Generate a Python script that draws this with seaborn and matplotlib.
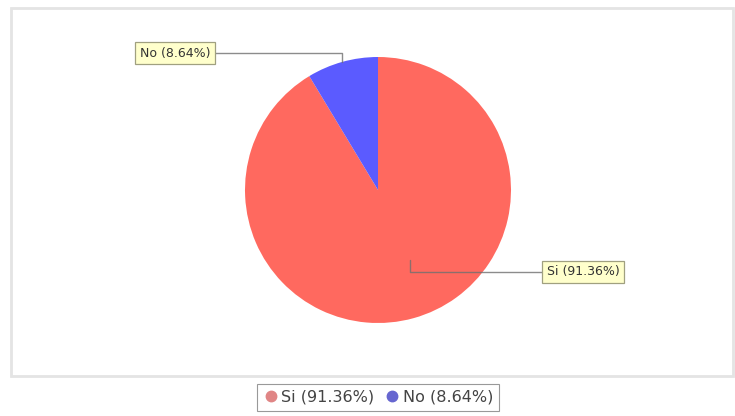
import matplotlib
matplotlib.use("Agg")
import matplotlib.pyplot as plt
from matplotlib.patches import Rectangle
from matplotlib.lines import Line2D
import seaborn as sns
import numpy as np

categories = ["Si", "No"]
percents = [91.36, 8.64]
colors = ["#FF695F", "#5B5BFF"]
legend_colors = ["#E08585", "#6666D0"]

sns.set_theme(style="white")
plt.rcParams['font.family'] = ['DejaVu Sans']

W, H = 735, 416
fig = plt.figure(figsize=(W / 100, H / 100), dpi=100)
fig.patch.set_facecolor("white")

# plot frame
frame = Rectangle((11 / W, 1 - 376 / H), (733 - 11) / W, (376 - 8) / H,
                  transform=fig.transFigure, fill=False, edgecolor="#e4e4e4", lw=2)
fig.patches.append(frame)

# pie axes
cx, cy, r = 378, 190, 133
ax = fig.add_axes([(cx - r) / W, 1 - (cy + r) / H, 2 * r / W, 2 * r / H])
wedges, _ = ax.pie(percents, colors=colors, startangle=90, counterclock=False,
                   radius=1.0, wedgeprops=dict(linewidth=0))
ax.set_xlim(-1, 1)
ax.set_ylim(-1, 1)
ax.set_aspect("auto")
ax.axis("off")

labels = [f"{c} ({p:.2f}%)" for c, p in zip(categories, percents)]
# anchor radii, angle offsets and label box positions (figure pixels)
anchor_r = [0.58, 1.0]
angle_off = [9, 0]
text_pos = [(583, 272), (175, 53)]
for w, lab, ar, ao, (tx, ty) in zip(wedges, labels, anchor_r, angle_off, text_pos):
    ang = np.deg2rad((w.theta1 + w.theta2) / 2 + ao)
    xy = (ar * np.cos(ang), ar * np.sin(ang))
    ax.annotate(lab, xy=xy, xycoords="data",
                xytext=(tx / W, 1 - ty / H), textcoords="figure fraction",
                ha="center", va="center", fontsize=9, color="#333333",
                bbox=dict(boxstyle="square,pad=0.35", fc="#FFFFCC", ec="#A0A080", lw=0.9),
                arrowprops=dict(arrowstyle="-", color="#707070", lw=1.0, alpha=0.8,
                                shrinkA=0, shrinkB=0,
                                connectionstyle="angle,angleA=0,angleB=90,rad=0"))

# legend
handles = [Line2D([0], [0], marker="o", linestyle="", markersize=7.5,
                  markerfacecolor=c, markeredgecolor=c) for c in legend_colors]
leg = fig.legend(handles, labels, loc="center", bbox_to_anchor=(378 / W, 1 - 397.5 / H),
                 ncol=2, fontsize=11.5, frameon=True, fancybox=False,
                 handletextpad=0.15, columnspacing=0.6, borderpad=0.4, handlelength=1.0)
leg.get_frame().set_edgecolor("#808080")
leg.get_frame().set_linewidth(0.8)
for t in leg.get_texts():
    t.set_color("#444444")

fig.savefig("out.png", dpi=100)
